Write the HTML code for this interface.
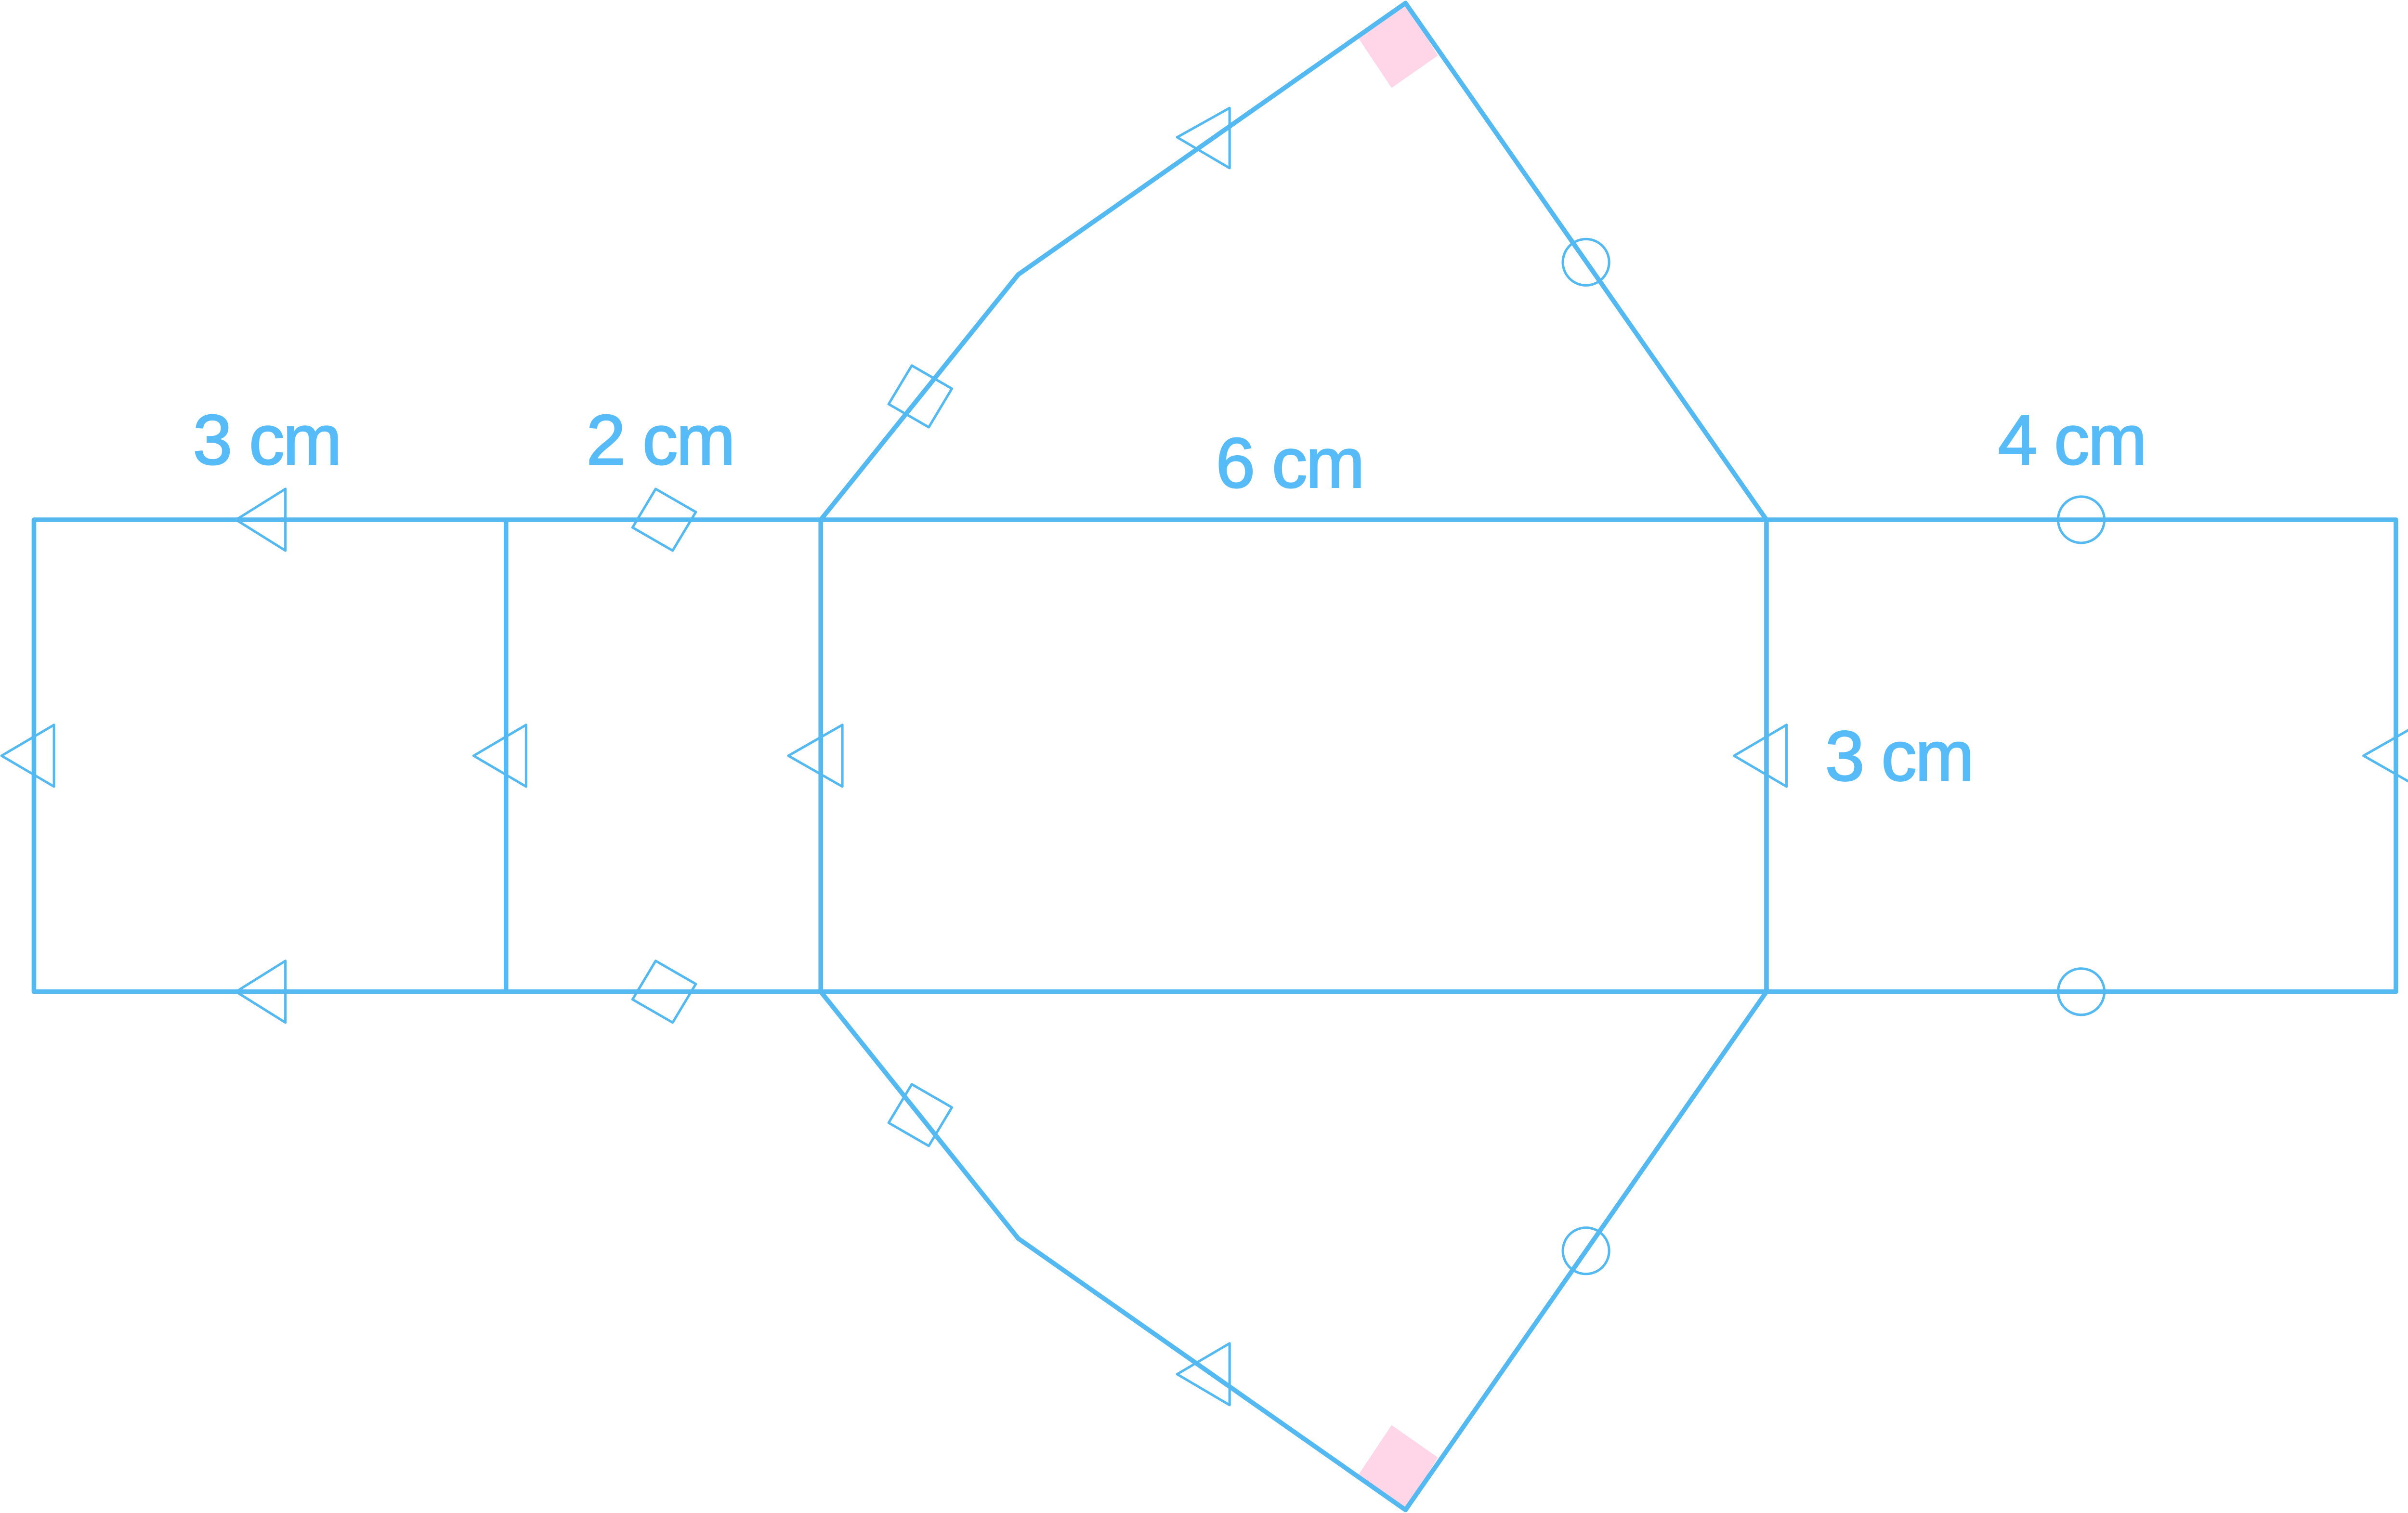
<!DOCTYPE html>
<html><head><meta charset="utf-8"><style>
html,body{margin:0;padding:0;background:#fff;}
svg{display:block;}
text{font-family:"Liberation Sans",sans-serif;fill:#56bbf7;stroke:#56bbf7;stroke-width:0.8px;font-size:46px;font-weight:normal;letter-spacing:-1px;}
</style></head><body>
<svg width="5023" height="3141" viewBox="0 0 1568 981" preserveAspectRatio="none" xmlns="http://www.w3.org/2000/svg">
<polygon points="911,2 880,24 902,57 932,36" fill="#ffd6e8"/>
<polygon points="911,979 880,957 902,924 932,945" fill="#ffd6e8"/>
<g fill="none" stroke="#55b9f1" stroke-width="3" stroke-linejoin="round">
<rect x="22" y="337" width="1531" height="306"/>
<line x1="328" y1="337" x2="328" y2="643"/>
<line x1="532" y1="337" x2="532" y2="643"/>
<line x1="1145" y1="337" x2="1145" y2="643"/>
<polyline points="532,337 660,178 911,2 1145,337"/>
<polyline points="532,643 660,803 911,979 1145,643"/>
</g>
<g fill="none" stroke="#55b9f1" stroke-width="1.6" stroke-linejoin="round">
<polygon points="185,317 185,357 153,337"/>
<polygon points="185,623 185,663 153,643"/>
<polygon points="35,470 35,510 1,490"/>
<polygon points="341,470 341,510 307,490"/>
<polygon points="546,470 546,510 511,490"/>
<polygon points="1158,470 1158,510 1124,490"/>
<polygon points="1567,470 1567,510 1532,490"/>
<polygon points="797,70 797,109 763,89"/>
<polygon points="797,871 797,911 763,891"/>
<polygon points="425,317 451,332 436,357 410,342"/>
<polygon points="425,623 451,638 436,663 410,648"/>
<polygon points="591,237 617,252 602,277 576,262"/>
<polygon points="591,703 617,718 602,743 576,728"/>
<circle cx="1028" cy="170" r="15"/>
<circle cx="1028" cy="811" r="15"/>
<circle cx="1349" cy="337" r="15"/>
<circle cx="1349" cy="643" r="15"/>
</g>
<text x="125" y="301">3 cm</text>
<text x="380" y="301">2 cm</text>
<text x="788" y="316">6 cm</text>
<text x="1295" y="301">4 cm</text>
<text x="1183" y="506">3 cm</text>
</svg>
</body></html>
